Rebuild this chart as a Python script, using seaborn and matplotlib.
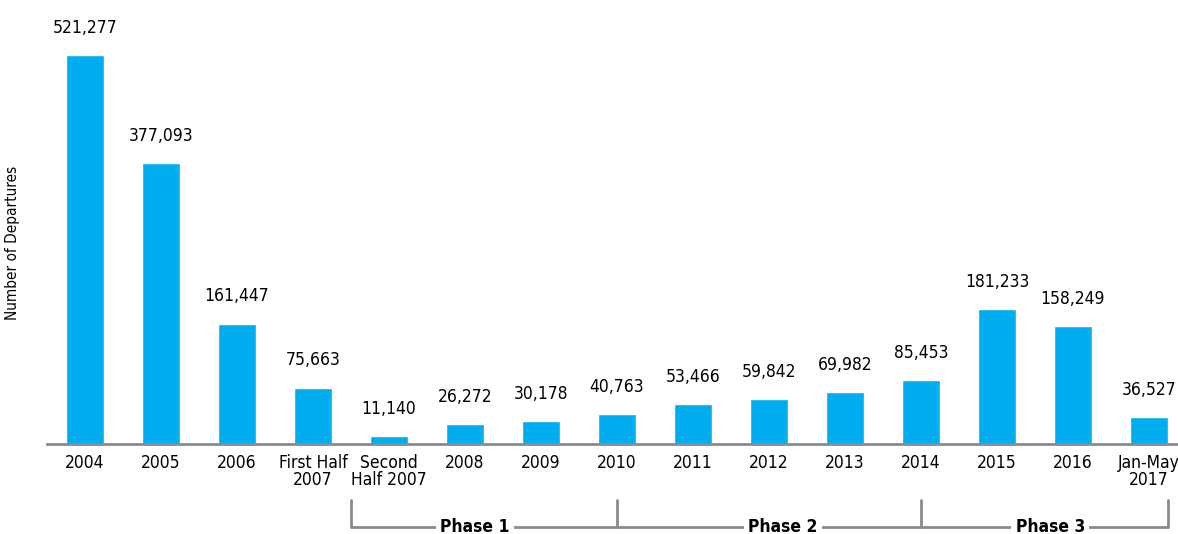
import matplotlib
matplotlib.use("Agg")
import matplotlib.pyplot as plt
import seaborn as sns
import pandas as pd
from matplotlib import font_manager

# Number of departures per period
periods = ["2004", "2005", "2006", "First Half\n2007", "Second\nHalf 2007", "2008", "2009",
           "2010", "2011", "2012", "2013", "2014", "2015", "2016", "Jan-May\n2017"]
departures = [521277, 377093, 161447, 75663, 11140, 26272, 30178,
              40763, 53466, 59842, 69982, 85453, 181233, 158249, 36527]

# phase brackets: (name, start, end) in bar positions
phase_names = ["Phase 1", "Phase 2", "Phase 3"]
phase_edges = [3.5, 7.0, 11.0, 14.25]
phase_label_x = [5.13, 9.18, 12.7]

bar_color = "#00AEEF"
grey = "#8a8a8a"

sns.set_style("white")
plt.rcParams["font.family"] = ["DejaVu Sans"]
plt.rcParams["font.stretch"] = "condensed"
plt.rcParams["text.color"] = "black"
plt.rcParams["xtick.color"] = "black"
plt.rcParams["axes.labelcolor"] = "black"

print(sorted({(f.name, f.stretch) for f in font_manager.fontManager.ttflist}))

df = pd.DataFrame({"period": periods, "departures": departures})

fig = plt.figure(figsize=(11.78, 5.34), dpi=100)
W, H = 1178, 534
ax = fig.add_axes([47 / W, 90 / H, 1140 / W, 434 / H])

sns.barplot(data=df, x="period", y="departures", color=bar_color, saturation=1,
            width=0.5, ax=ax, order=periods)

ax.set_xlim(-0.5, 14.5)
ax.set_ylim(0, 521277 * 434 / 389)

for i, v in enumerate(departures):
    ax.annotate(f"{v:,}", (i, v), xytext=(0, 13), textcoords="offset points",
                ha="center", va="bottom", fontsize=12.5)

for s in ["top", "right", "left"]:
    ax.spines[s].set_visible(False)
ax.spines["bottom"].set_color(grey)
ax.spines["bottom"].set_linewidth(2)

ax.set_yticks([])
ax.tick_params(axis="x", length=0, pad=7, labelsize=12.5)
for lab in ax.get_xticklabels():
    lab.set_linespacing(0.95)
    lab.set_verticalalignment("top")
ax.set_xlabel("")
ax.set_ylabel("Number of Departures", fontsize=11)
ax.yaxis.set_label_coords(-0.024, 0.463)

# phase brackets below the axis
trans = ax.get_xaxis_transform()
y_top = (444 - 500) / 434
y_bot = (444 - 527) / 434
ax.plot([phase_edges[0], phase_edges[-1]], [y_bot, y_bot], color=grey, lw=2,
        transform=trans, clip_on=False, solid_capstyle="butt")
for xe in phase_edges:
    ax.plot([xe, xe], [y_top, y_bot], color=grey, lw=2, transform=trans, clip_on=False)
for name, xl in zip(phase_names, phase_label_x):
    ax.text(xl, y_bot, name, transform=trans, ha="center", va="center", fontsize=12.5,
            fontweight="bold", bbox=dict(facecolor="white", edgecolor="none", pad=3),
            clip_on=False)

fig.savefig("out.png", dpi=100)
